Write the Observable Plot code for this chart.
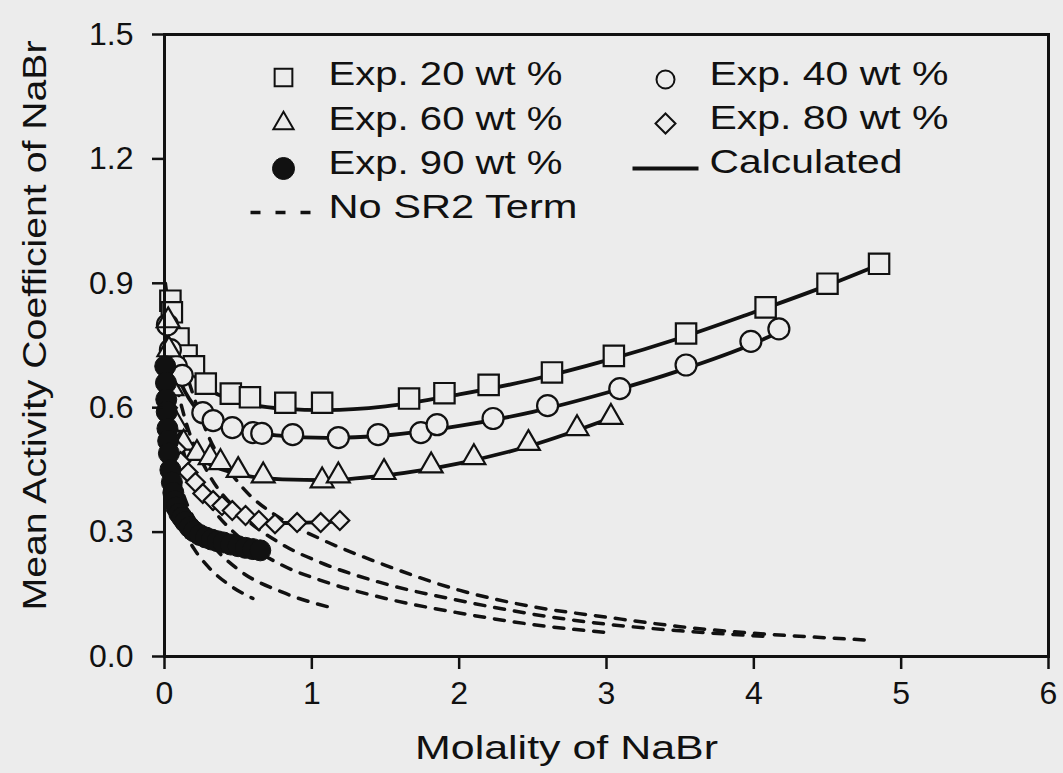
<!DOCTYPE html>
<html><head><meta charset="utf-8">
<script src="https://cdn.jsdelivr.net/npm/d3@7"></script>
<script src="https://cdn.jsdelivr.net/npm/@observablehq/plot@0.6"></script>
<style>
html,body{margin:0;padding:0;background:#ececec;}
#chart{width:1063px;height:773px;}
svg{display:block;}
</style></head><body><div id="chart"></div>
<script>
// ---- Data ----
const xTicks = [0, 1, 2, 3, 4, 5, 6];
const yTicks = [0, 0.3, 0.6, 0.9, 1.2, 1.5];
const xTitle = "Molality of NaBr";
const yTitle = "Mean Activity Coefficient of NaBr";

// Experimental points
const exp20x = [0.04,0.05,0.095,0.15,0.2,0.28,0.45,0.58,0.82,1.07,1.66,1.9,2.2,2.63,3.05,3.54,4.08,4.5,4.85];
const exp20y = [0.858,0.83,0.767,0.726,0.70,0.658,0.634,0.625,0.612,0.612,0.622,0.635,0.655,0.685,0.725,0.779,0.842,0.899,0.947];

const exp40x = [0.02,0.04,0.08,0.12,0.26,0.33,0.46,0.60,0.66,0.87,1.18,1.45,1.74,1.85,2.23,2.60,3.09,3.54,3.98,4.17];
const exp40y = [0.80,0.74,0.70,0.678,0.588,0.569,0.552,0.540,0.538,0.535,0.528,0.535,0.540,0.559,0.574,0.605,0.646,0.703,0.760,0.790];

const exp60x = [0.025,0.03,0.05,0.08,0.13,0.22,0.31,0.38,0.50,0.67,1.07,1.18,1.49,1.81,2.10,2.47,2.80,3.03];
const exp60y = [0.81,0.74,0.646,0.56,0.515,0.49,0.48,0.468,0.449,0.436,0.424,0.436,0.444,0.46,0.48,0.514,0.55,0.577];

const exp80x = [0.02,0.04,0.08,0.11,0.16,0.21,0.26,0.33,0.39,0.46,0.55,0.64,0.75,0.90,1.06,1.19];
const exp80y = [0.60,0.54,0.50,0.47,0.444,0.42,0.393,0.376,0.364,0.352,0.34,0.328,0.32,0.323,0.323,0.328];

const exp90x = [0.005,0.01,0.012,0.015,0.02,0.025,0.03,0.04,0.05,0.06,0.07,0.08,0.1,0.12,0.14,0.17,0.2,0.24,0.28,0.32,0.36,0.4,0.45,0.5,0.55,0.6,0.65];
const exp90y = [0.70,0.66,0.62,0.59,0.55,0.52,0.49,0.45,0.42,0.395,0.375,0.36,0.345,0.335,0.325,0.312,0.302,0.293,0.287,0.282,0.278,0.275,0.27,0.266,0.262,0.259,0.256];

// Calculated curves
const calc20x = [0.005,0.02,0.05,0.1,0.2,0.3,0.5,0.8,1.1,1.5,2.0,2.5,3.0,3.5,4.0,4.5,4.85];
const calc20y = [0.90,0.86,0.81,0.75,0.68,0.645,0.615,0.598,0.594,0.603,0.632,0.668,0.714,0.768,0.83,0.895,0.945];
const calc40x = [0.005,0.02,0.05,0.1,0.2,0.3,0.5,0.8,1.1,1.5,2.0,2.5,3.0,3.5,4.0,4.17];
const calc40y = [0.84,0.79,0.73,0.67,0.605,0.572,0.547,0.532,0.527,0.533,0.556,0.59,0.636,0.69,0.755,0.782];
const calc60x = [0.005,0.02,0.05,0.1,0.2,0.3,0.5,0.8,1.1,1.5,2.0,2.5,3.03];
const calc60y = [0.80,0.71,0.62,0.55,0.49,0.465,0.44,0.427,0.425,0.437,0.466,0.51,0.575];
const calc80x = [0.005,0.02,0.05,0.1,0.2,0.3,0.5,0.8,1.19];
const calc80y = [0.66,0.6,0.53,0.47,0.41,0.375,0.345,0.322,0.326];
const calc90x = [0.003,0.01,0.02,0.05,0.1,0.2,0.4,0.67];
const calc90y = [0.72,0.66,0.55,0.43,0.345,0.302,0.275,0.255];

// "No SR2 Term" curves
const nosr20x = [0.05,0.15,0.3,0.5,0.8,1.05,1.5,2.0,2.5,3.0,3.5,4.0,4.5,4.75];
const nosr20y = [0.80,0.68,0.53,0.42,0.33,0.285,0.22,0.16,0.12,0.095,0.072,0.056,0.045,0.04];
const nosr40x = [0.05,0.15,0.3,0.5,0.8,1.05,1.5,2.0,2.5,3.0,3.5,4.1];
const nosr40y = [0.70,0.56,0.44,0.35,0.27,0.228,0.175,0.135,0.102,0.078,0.062,0.048];
const nosr60x = [0.05,0.15,0.3,0.5,0.8,1.05,1.5,2.0,2.5,3.0];
const nosr60y = [0.60,0.47,0.37,0.29,0.22,0.185,0.14,0.105,0.077,0.058];
const nosr80x = [0.05,0.15,0.3,0.5,0.8,1.13];
const nosr80y = [0.48,0.37,0.28,0.21,0.155,0.118];
const nosr90x = [0.02,0.1,0.2,0.3,0.45,0.6];
const nosr90y = [0.45,0.33,0.26,0.215,0.17,0.14];

const legendLabels = ["Exp. 20 wt %","Exp. 40 wt %","Exp. 60 wt %","Exp. 80 wt %","Exp. 90 wt %","Calculated","No SR2 Term"];

// ---- Build tables ----
const rows = (xs, ys, s) => xs.map((x, i) => ({x, y: ys[i], s}));
const calc = [...rows(calc20x,calc20y,"20"),...rows(calc40x,calc40y,"40"),...rows(calc60x,calc60y,"60"),...rows(calc80x,calc80y,"80"),...rows(calc90x,calc90y,"90")];
const nosr = [...rows(nosr20x,nosr20y,"20"),...rows(nosr40x,nosr40y,"40"),...rows(nosr60x,nosr60y,"60"),...rows(nosr80x,nosr80y,"80"),...rows(nosr90x,nosr90y,"90")];

const INK = "#111";
const BG = "#ececec";
const FONT = "Liberation Sans, Arial, sans-serif";

const lineSym = (w) => ({draw(ctx){ ctx.moveTo(-w, 0); ctx.lineTo(w, 0); }});

// legend helpers (positions relative to frame's top-left)
const legSym = (dx, dy, opts) => Plot.dot([0], {frameAnchor: "top-left", dx, dy, stroke: INK, strokeWidth: 2, fill: BG, ...opts});
const legText = (label, dx, dy) => Plot.text([label], {text: d => d, frameAnchor: "top-left", dx, dy, textAnchor: "start", lineAnchor: "middle", fontSize: 33, fill: INK});

const plot = Plot.plot({
  width: 1063, height: 773,
  marginLeft: 164, marginRight: 15, marginTop: 34, marginBottom: 117,
  style: {fontFamily: FONT, fontSize: "31px", background: "transparent", color: INK},
  x: {domain: [0, 6]},
  y: {domain: [0, 1.5]},
  marks: [
    // dashed "No SR2 term" curves
    Plot.line(nosr, {x: "x", y: "y", z: "s", curve: "monotone-x", stroke: INK, strokeWidth: 3.5, strokeDasharray: "10,10"}),
    // calculated curves
    Plot.line(calc, {x: "x", y: "y", z: "s", curve: "monotone-x", stroke: INK, strokeWidth: 3.8}),
    // experimental points
    Plot.dot(rows(exp20x, exp20y, "20"), {x: "x", y: "y", symbol: "square", r: 11.5, stroke: INK, strokeWidth: 2.2, fill: BG}),
    Plot.dot(rows(exp40x, exp40y, "40"), {x: "x", y: "y", symbol: "circle", r: 10.5, stroke: INK, strokeWidth: 2.2, fill: BG}),
    Plot.dot(rows(exp60x, exp60y, "60"), {x: "x", y: "y", symbol: "triangle", r: 8.5, stroke: INK, strokeWidth: 2.2, fill: BG}),
    Plot.dot(rows(exp80x, exp80y, "80"), {x: "x", y: "y", symbol: "diamond2", r: 8.5, stroke: INK, strokeWidth: 2.2, fill: BG}),
    Plot.dot(rows(exp90x, exp90y, "90"), {x: "x", y: "y", symbol: "circle", r: 10.5, stroke: INK, strokeWidth: 1, fill: INK}),
    // axes
    Plot.axisX({ticks: xTicks, tickSize: 13, tickPadding: 12, tickFormat: d3.format("d"), label: null, fontSize: 32, strokeWidth: 2.5}),
    Plot.axisY({ticks: yTicks, tickSize: 12, tickPadding: 19, tickFormat: d3.format(".1f"), label: null, fontSize: 32, strokeWidth: 2.5}),
    Plot.frame({stroke: INK, strokeWidth: 3}),
    // axis titles
    Plot.text([xTitle], {text: d => d, frameAnchor: "bottom", textAnchor: "middle", lineAnchor: "middle", dx: -40, dy: 92, fontSize: 33, fill: INK}),
    Plot.text([yTitle], {text: d => d, frameAnchor: "left", textAnchor: "middle", lineAnchor: "middle", rotate: -90, dx: -129, dy: -20, fontSize: 33, fill: INK}),
    // legend
    legSym(119, 43, {symbol: "square", r: 10}),
    legText(legendLabels[0], 164, 40),
    legSym(501, 45, {symbol: "circle", r: 9}),
    legText(legendLabels[1], 545, 40),
    legSym(119, 89, {symbol: "triangle", r: 7.5}),
    legText(legendLabels[2], 164, 85),
    legSym(501, 89, {symbol: "diamond2", r: 9}),
    legText(legendLabels[3], 545, 84),
    legSym(119, 134, {symbol: "circle", r: 11, fill: INK, strokeWidth: 1}),
    legText(legendLabels[4], 164, 129),
    Plot.dot([0], {frameAnchor: "top-left", dx: 501, dy: 134, symbol: lineSym(33), stroke: INK, strokeWidth: 3.8, fill: "none"}),
    legText(legendLabels[5], 545, 128),
    Plot.dot([0], {frameAnchor: "top-left", dx: 118, dy: 178, symbol: lineSym(32), stroke: INK, strokeWidth: 3.5, fill: "none", strokeDasharray: "10,15"}),
    legText(legendLabels[6], 164, 173)
  ]
});

// The scanned figure's lettering is wider than Liberation Sans: stretch the titles and legend text to the reference's widths.
const textWidths = new Map([
  [xTitle, 303], [yTitle, 570],
  [legendLabels[0], 234], [legendLabels[1], 239], [legendLabels[2], 234], [legendLabels[3], 239],
  [legendLabels[4], 234], [legendLabels[5], 193], [legendLabels[6], 249]
]);
d3.select(plot).selectAll("g[aria-label='text'] text").each(function() {
  const w = textWidths.get(this.textContent);
  if (w) { this.setAttribute("textLength", w); this.setAttribute("lengthAdjust", "spacingAndGlyphs"); }
});
document.getElementById("chart").appendChild(plot);
</script>
</body></html>
